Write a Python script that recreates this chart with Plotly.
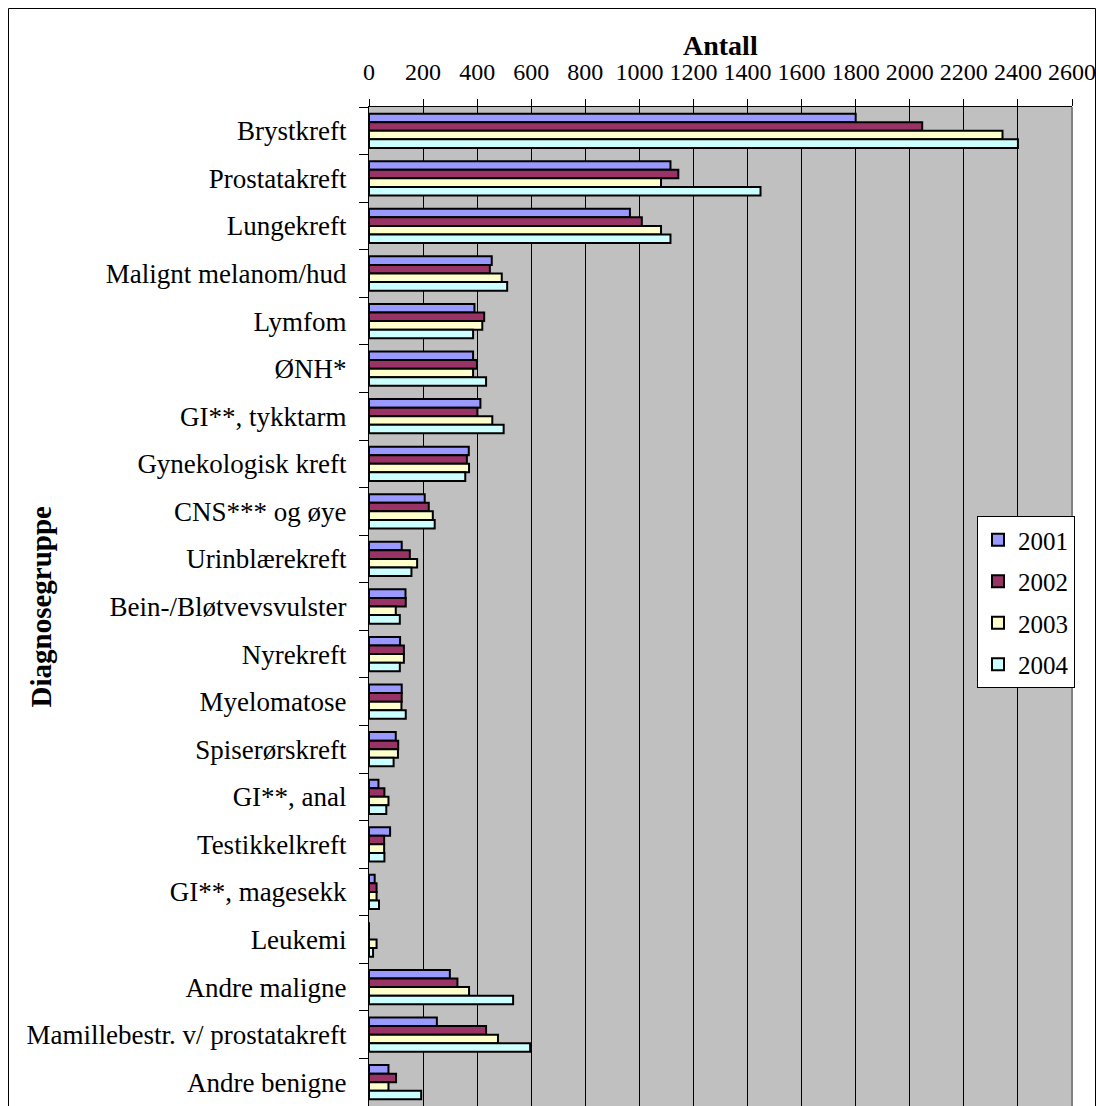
import plotly.graph_objs as go

categories = ["Brystkreft", "Prostatakreft", "Lungekreft", "Malignt melanom/hud",
              "Lymfom", "ØNH*", "GI**, tykktarm", "Gynekologisk kreft",
              "CNS*** og øye", "Urinblærekreft", "Bein-/Bløtvevsvulster",
              "Nyrekreft", "Myelomatose", "Spiserørskreft", "GI**, anal",
              "Testikkelkreft", "GI**, magesekk", "Leukemi", "Andre maligne",
              "Mamillebestr. v/ prostatakreft", "Andre benigne"]

y2001 = [1800, 1115, 965, 454, 390, 385, 412, 369, 206, 121, 135, 115, 121, 99, 35, 78, 21, 0, 299, 251, 72]
y2002 = [2046, 1144, 1009, 447, 426, 399, 401, 362, 221, 151, 136, 129, 121, 108, 57, 56, 28, 0, 327, 433, 100]
y2003 = [2343, 1080, 1080, 491, 419, 385, 456, 370, 236, 178, 99, 129, 120, 107, 72, 56, 28, 28, 370, 477, 72]
y2004 = [2400, 1448, 1115, 511, 385, 433, 498, 356, 243, 157, 114, 114, 136, 91, 64, 57, 37, 15, 533, 596, 193]

years = ["2001", "2002", "2003", "2004"]
colors = ["#9999FF", "#993366", "#FFFFCC", "#CCFFFF"]
series = [y2001, y2002, y2003, y2004]

font = "Liberation Serif, Times New Roman, serif"

W, H = 1096, 1106
ML, MR, MT, MB = 369, 24, 107, 0
pw = W - ML - MR
ph = H - MT - MB

traces = []
for name, vals, col in zip(years, series, colors):
    traces.append(go.Bar(y=categories, x=vals, name=name, orientation="h",
                         legendgroup=name,
                         marker={"color": col, "line": {"color": "black", "width": 2}}))

layout = go.Layout(
    width=W, height=H,
    margin={"l": ML, "r": MR, "t": MT, "b": MB, "autoexpand": False},
    paper_bgcolor="white", plot_bgcolor="#C0C0C0",
    font={"family": font, "size": 25, "color": "black"},
    barmode="group", bargap=0.28, bargroupgap=0,
    xaxis={"side": "top", "range": [0, 2600], "dtick": 200, "tick0": 0,
           "showgrid": True, "gridcolor": "black", "gridwidth": 1,
           "zeroline": False, "showline": True, "linecolor": "black", "linewidth": 1,
           "ticks": "outside", "ticklen": 7, "tickcolor": "black",
           "ticklabelstandoff": 9, "ticklabeloverflow": "allow", "automargin": False,
           "tickfont": {"size": 24}},
    yaxis={"autorange": "reversed", "showgrid": False, "zeroline": False,
           "showline": True, "linecolor": "black", "linewidth": 1,
           "ticks": "outside", "ticklen": 9, "tickcolor": "black",
           "tickson": "boundaries", "ticklabelstandoff": 16, "automargin": False,
           "tickfont": {"size": 27}},
    legend={"x": (977 - ML) / pw, "y": 1 - (516 - MT) / ph, "xanchor": "left", "yanchor": "top",
            "bgcolor": "white", "bordercolor": "black", "borderwidth": 1,
            "traceorder": "grouped", "tracegroupgap": 6,
            "font": {"size": 25}},
    shapes=[
        # right edge of plot area
        {"type": "line", "xref": "paper", "yref": "paper", "x0": 1, "x1": 1, "y0": 0, "y1": 1,
         "line": {"color": "#808080", "width": 2}},
        # outer chart frame
        {"type": "rect", "xref": "paper", "yref": "paper",
         "x0": -(ML - 8.5) / pw, "x1": (1095.5 - ML) / pw,
         "y0": -0.05, "y1": (H - 8.5) / ph,
         "line": {"color": "black", "width": 1}},
    ],
    annotations=[
        {"text": "<b>Antall</b>", "xref": "paper", "yref": "paper", "x": 0.5, "y": 1 + 62 / ph,
         "xanchor": "center", "yanchor": "middle",
         "showarrow": False, "font": {"size": 28}},
        {"text": "<b>Diagnosegruppe</b>", "xref": "paper", "yref": "paper",
         "x": -(ML - 40) / pw, "y": 0.5, "xanchor": "center", "yanchor": "middle",
         "showarrow": False, "textangle": -90, "font": {"size": 29}},
    ],
)

fig = go.Figure(data=traces, layout=layout)
# drop the default page margin so the figure fills the window exactly
fig.write_html("out.html", config={"displayModeBar": False},
               post_script="document.body.style.margin='0';document.body.style.overflow='hidden';")
